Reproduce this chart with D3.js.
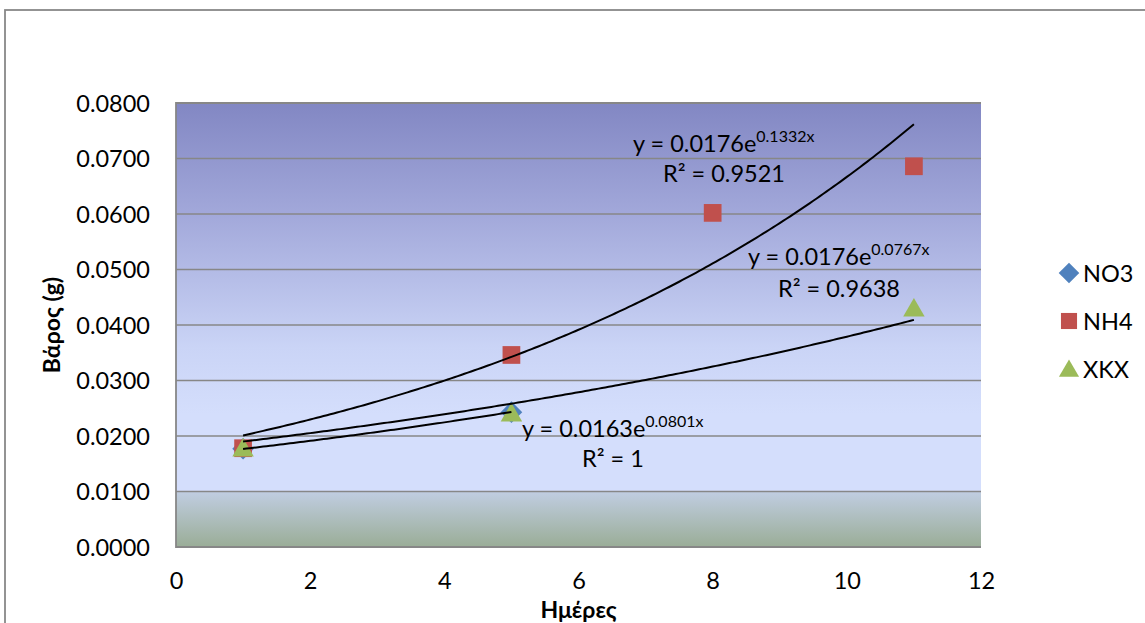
<!DOCTYPE html>
<html>
<head>
<meta charset="utf-8">
<script src="https://cdn.jsdelivr.net/npm/d3@7"></script>
<style>
  html, body { margin: 0; padding: 0; background: #fff; }
  svg { display: block; }
  text { font-family: Lato, "Open Sans", sans-serif; fill: #000; }
</style>
</head>
<body>
<svg id="chart" width="1145" height="623"></svg>
<script>
// Day of measurement for each series
const no3Days = [1, 5];
const nh4Days = [1, 5, 8, 11];
const xkxDays = [1, 5, 11];

// Measured weight (g)
const no3Weight = [0.0177, 0.0243];
const nh4Weight = [0.0178, 0.0346, 0.0602, 0.0686];
const xkxWeight = [0.0178, 0.0241, 0.0430];

// Exponential trendlines y = a·e^(b·x)
const trendNames = ["NH4", "XKX", "NO3"];
const trendA = [0.0176, 0.0176, 0.0163];
const trendB = [0.1332, 0.0767, 0.0801];
const trendR2 = ["0.9521", "0.9638", "1"];
const trendFrom = [1, 1, 1];
const trendTo = [11, 11, 5];

// Axis ticks
const yTicks = [0, 0.01, 0.02, 0.03, 0.04, 0.05, 0.06, 0.07, 0.08];
const xTicks = [0, 2, 4, 6, 8, 10, 12];

const seriesNames = ["NO3", "NH4", "XKX"];
const seriesColors = ["#4F81BD", "#C0504D", "#9BBB59"];

const svg = d3.select("#chart");
const plot = { left: 176, right: 981, top: 103, bottom: 547 };

const x = d3.scaleLinear().domain([0, 12]).range([plot.left, plot.right]);
const y = d3.scaleLinear().domain([0, 0.08]).range([plot.bottom, plot.top]);

// Outer chart frame
svg.append("rect")
  .attr("x", 5).attr("y", 10).attr("width", 1200).attr("height", 700)
  .attr("fill", "#fff").attr("stroke", "#888").attr("stroke-width", 1.8);

// Plot-area gradient fill
const defs = svg.append("defs");
const grad = defs.append("linearGradient").attr("id", "plotFill")
  .attr("x1", 0).attr("y1", 0).attr("x2", 0).attr("y2", 1);
[[0, "#8287C3"], [0.25, "#A2A8DA"], [0.55, "#CAD4F6"], [0.7, "#D4DEFC"],
 [0.874, "#D4DEFC"], [0.876, "#C0CDE1"], [1, "#9AAD97"]]
  .forEach(([o, c]) => grad.append("stop").attr("offset", o).attr("stop-color", c));

svg.append("rect")
  .attr("x", plot.left).attr("y", plot.top)
  .attr("width", plot.right - plot.left).attr("height", plot.bottom - plot.top)
  .attr("fill", "url(#plotFill)");

// Horizontal gridlines
svg.append("g").selectAll("line").data(yTicks.filter(d => d > 0)).join("line")
  .attr("x1", plot.left).attr("x2", plot.right)
  .attr("y1", d => y(d)).attr("y2", d => y(d))
  .attr("stroke", "#878787").attr("stroke-width", 1.6);

// Plot-area border (left, top, bottom)
svg.append("path")
  .attr("d", `M${plot.right},${plot.top}H${plot.left}V${plot.bottom}H${plot.right}`)
  .attr("fill", "none").attr("stroke", "#878787").attr("stroke-width", 1.8);

// Y axis labels
const yAxis = d3.axisLeft(y).tickValues(yTicks).tickFormat(d3.format(".4f")).tickSize(0).tickPadding(26);
const gy = svg.append("g").attr("transform", `translate(${plot.left},0)`).call(yAxis);
gy.select(".domain").remove();
gy.selectAll("text").attr("font-family", "Lato, sans-serif").attr("font-size", 23.5).attr("fill", "#000").attr("dy", "0.36em");

// X axis labels
const xAxis = d3.axisBottom(x).tickValues(xTicks).tickFormat(d3.format("d")).tickSize(0).tickPadding(25);
const gx = svg.append("g").attr("transform", `translate(0,${plot.bottom})`).call(xAxis);
gx.select(".domain").remove();
gx.selectAll("text").attr("font-family", "Lato, sans-serif").attr("font-size", 23.5).attr("fill", "#000");

// Axis titles
svg.append("text")
  .attr("transform", `translate(60,${(plot.top + plot.bottom) / 2}) rotate(-90)`)
  .attr("text-anchor", "middle").attr("font-size", 23).attr("font-weight", 700)
  .text("Βάρος (g)");
svg.append("text")
  .attr("x", (plot.left + plot.right) / 2).attr("y", 618)
  .attr("text-anchor", "middle").attr("font-size", 23).attr("font-weight", 700)
  .text("Ημέρες");

// Markers
const sym = {
  NO3: d3.symbol().type(d3.symbolDiamond2).size(300),
  NH4: d3.symbol().type(d3.symbolSquare2).size(400),
  XKX: d3.symbol().type(d3.symbolTriangle2).size(330)
};
function drawSeries(name, days, vals, color, dy) {
  svg.append("g").selectAll("path").data(days.map((d, i) => [d, vals[i]])).join("path")
    .attr("transform", d => `translate(${x(d[0])},${y(d[1]) + dy})`)
    .attr("d", sym[name]()).attr("fill", color);
}
drawSeries("NO3", no3Days, no3Weight, seriesColors[0], 0);
drawSeries("NH4", nh4Days, nh4Weight, seriesColors[1], 0);
drawSeries("XKX", xkxDays, xkxWeight, seriesColors[2], 2);

// Trendlines
const line = d3.line().x(d => x(d[0])).y(d => y(d[1])).curve(d3.curveLinear);
trendA.forEach((a, i) => {
  const b = trendB[i];
  const pts = d3.range(trendFrom[i], trendTo[i] + 0.0001, 0.05).map(t => [t, a * Math.exp(b * t)]);
  svg.append("path").attr("d", line(pts))
    .attr("fill", "none").attr("stroke", "#000").attr("stroke-width", 2);
});

// Trendline equations
const labelPos = [
  { ex: 633, ey: 152, rx: 663, ry: 182 },
  { ex: 748, ey: 265, rx: 778, ry: 297 },
  { ex: 522, ey: 437, rx: 582, ry: 467 }
];
trendA.forEach((a, i) => {
  const p = labelPos[i];
  const t = svg.append("text").attr("x", p.ex).attr("y", p.ey).attr("font-size", 23.5);
  t.append("tspan").text(`y = ${a.toFixed(4)}e`);
  t.append("tspan").attr("dy", -10).attr("font-size", 16).text(`${trendB[i].toFixed(4)}x`);
  svg.append("text").attr("x", p.rx).attr("y", p.ry).attr("font-size", 23.5)
    .text(`R² = ${trendR2[i]}`);
});

// Legend
const legendY = [273, 321, 369];
seriesNames.forEach((n, i) => {
  const g = svg.append("g").attr("transform", `translate(1069,${legendY[i]})`);
  const s = n === "NO3" ? d3.symbol().type(d3.symbolDiamond2).size(270)
          : n === "NH4" ? d3.symbol().type(d3.symbolSquare2).size(330)
          : d3.symbol().type(d3.symbolTriangle2).size(290);
  g.append("path").attr("d", s()).attr("fill", seriesColors[i]).attr("transform", n === "XKX" ? "translate(0,2)" : null);
  g.append("text").attr("x", 14).attr("y", 8.5).attr("font-size", 23.5).text(n);
});
</script>
</body>
</html>
